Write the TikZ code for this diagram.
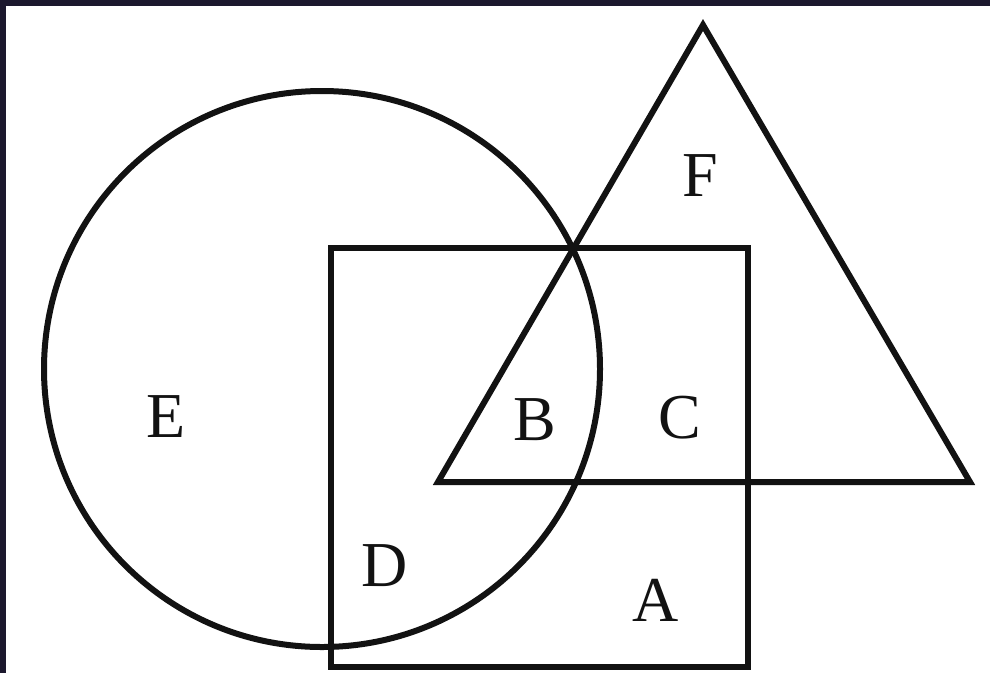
\documentclass[tikz,border=0pt]{standalone}
\usepackage{fontspec}
\setmainfont{Liberation Serif}
\definecolor{frame}{RGB}{28,24,46}
\definecolor{ink}{RGB}{18,18,18}
\tikzset{
  shape line/.style={draw=ink, line width=6pt, line join=miter},
  setlabel/.style={font=\fontsize{64}{64}\selectfont, text=ink, inner sep=0pt}
}
\begin{document}
\begin{tikzpicture}[x=1pt,y=-1pt]
\useasboundingbox (0,0) rectangle (990,673);
\fill[white] (0,0) rectangle (990,673);
\fill[frame] (0,0) rectangle (990,6);
\fill[frame] (0,0) rectangle (6,673);
% circle
\draw[shape line] (322,369) circle[radius=278pt];
% rectangle
\draw[shape line] (331,248) rectangle (748,667);
% triangle
\draw[shape line] (703,25) -- (970,482) -- (438,482) -- cycle;
% labels
\node[setlabel] (E) at (166,417) {E};
\node[setlabel] (F) at (700,176) {F};
\node[setlabel] (B) at (535,420) {B};
\node[setlabel] (C) at (680,418) {C};
\node[setlabel] (D) at (385,566) {D};
\node[setlabel] (A) at (656,600) {A};
\end{tikzpicture}
\end{document}
